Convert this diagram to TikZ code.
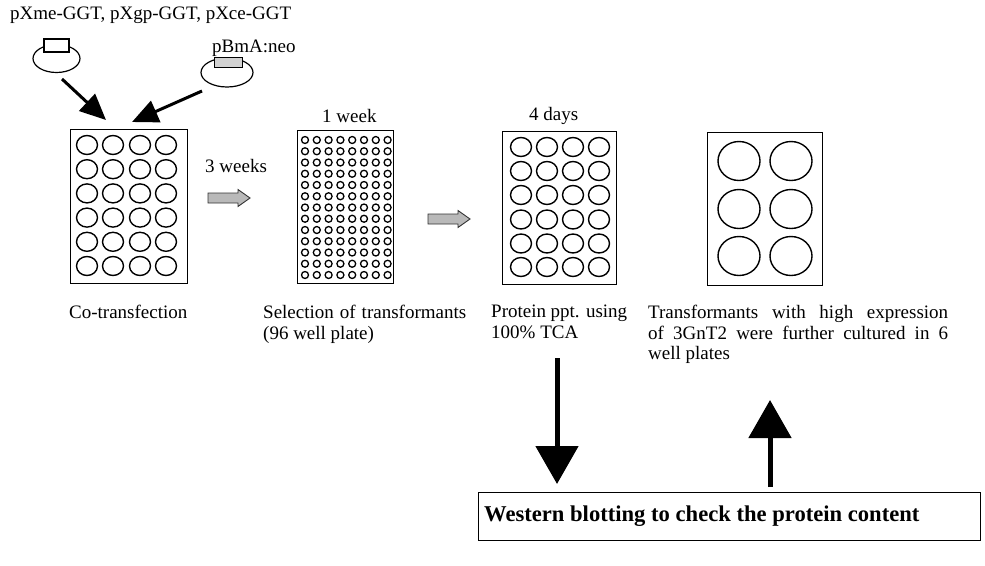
\documentclass[tikz,border=0pt]{standalone}
\usepackage{fontspec}
\setmainfont{Liberation Serif}
\usetikzlibrary{arrows.meta,shapes.geometric}
\begin{document}
\begin{tikzpicture}[x=1pt,y=-1pt,
  lbl/.style={font=\fontsize{19}{20.5}\selectfont, inner sep=0pt},
  para/.style={lbl, align=justify, anchor=north west},
  plate/.style={draw, line width=1.3pt, rectangle, inner sep=0pt, anchor=north west},
  well/.style={line width=1.4pt},
  smallwell/.style={line width=1.3pt},
  parrow/.style={line width=3pt, -{Triangle[width=23pt,length=26pt]}},
  bigarrow/.style={line width=5pt, -{Triangle[width=42pt,length=38pt]}},
  garrowbody/.style={fill=gray!55, draw=black!80, line width=0.9pt, line join=miter},
  pics/garrow/.style={code={
    \draw[garrowbody] (0,-5) -- (30,-5) -- (30,-8.5) -- (42,0) -- (30,8.5) -- (30,5) -- (0,5) -- cycle;}}
]
\useasboundingbox (0,0) rectangle (985,565);

% top label
\node[lbl, anchor=west] (toplbl) at (10,15) {pXme-GGT, pXgp-GGT, pXce-GGT};

% plasmid 1
\node[draw, line width=1.2pt, ellipse, minimum width=47pt, minimum height=28pt, inner sep=0pt] (p1) at (56.5,58.5) {};
\node[draw, line width=1.2pt, fill=white, minimum width=25pt, minimum height=13pt, inner sep=0pt] (p1r) at (56.5,45.5) {};

% plasmid 2
\node[draw, line width=1.2pt, ellipse, minimum width=52pt, minimum height=29pt, inner sep=0pt] (p2) at (227,72.5) {};
\node[draw, line width=1.0pt, fill=gray!35, minimum width=28pt, minimum height=10pt, inner sep=0pt] (p2r) at (228,62) {};
\node[lbl, anchor=west] (p2lbl) at (212,48.5) {pBmA:neo};

% plate 1 (24 wells)
\node[plate, minimum width=117pt, minimum height=154pt] (pl1) at (70,129) {};
\foreach \x in {87,113,140,166}
  \foreach \y in {145,169.2,193.4,217.6,241.8,266}
    \draw[well] (\x,\y) ellipse [x radius=10.5pt, y radius=9.5pt];

% plate 2 (96 wells)
\node[plate, minimum width=96pt, minimum height=153pt] (pl2) at (297,130) {};
\foreach \i in {0,...,7}
  \foreach \j in {0,...,12}
    \draw[smallwell] ({305+11.8*\i},{140+11.25*\j}) circle [radius=3.5pt];

% plate 3 (24 wells)
\node[plate, minimum width=114pt, minimum height=153pt] (pl3) at (502,131) {};
\foreach \x in {521,547,573,599}
  \foreach \y in {147,171,195,219.5,243.5,267}
    \draw[well] (\x,\y) ellipse [x radius=10.5pt, y radius=9.5pt];

% plate 4 (6 wells)
\node[plate, minimum width=115pt, minimum height=153pt] (pl4) at (707,132) {};
\foreach \x in {739,791}
  \foreach \y in {161,209,256}
    \draw[well] (\x,\y) ellipse [x radius=21pt, y radius=19.5pt];

% plasmid arrows
\coordinate (a1s) at (62,79);
\coordinate (a1e) at (106,120);
\coordinate (a2s) at (202,91);
\coordinate (a2e) at (132,122);
\draw[parrow] (a1s) -- (a1e);
\draw[parrow] (a2s) -- (a2e);

% time labels
\node[lbl, anchor=west] (t1) at (205,166) {3 weeks};
\node[lbl, anchor=west] (t2) at (322,116) {1 week};
\node[lbl, anchor=west] (t3) at (529,116) {4 days};

% gray arrows
\pic at (208,198) {garrow};
\pic at (428,219) {garrow};

% step captions
\node[lbl, anchor=north west] (c1) at (69,305) {Co-transfection};
\node[para, text width=203pt] (c2) at (263,305) {Selection of transformants\linebreak (96 well plate)};
\node[para, text width=136pt] (c3) at (491,305) {Protein ppt. using\linebreak 100\% TCA};
\node[para, text width=300pt] (c4) at (648,305) {Transformants with high expression\linebreak of 3GnT2 were further cultured in 6\linebreak well plates};

% western blot box
\node[draw, line width=1.2pt, anchor=north west, minimum width=502pt, minimum height=48pt, inner sep=0pt] (wb) at (478,492) {};
\node[font=\bfseries\fontsize{22.6}{24}\selectfont, anchor=west, inner sep=0pt] (wbt) at (484,516) {Western blotting to check the protein content};

% big arrows
\coordinate (d1) at (557,358);
\coordinate (d2) at (557,484);
\coordinate (u1) at (770,487);
\coordinate (u2) at (770,400);
\draw[bigarrow] (d1) -- (d2);
\draw[bigarrow] (u1) -- (u2);
\end{tikzpicture}
\end{document}
